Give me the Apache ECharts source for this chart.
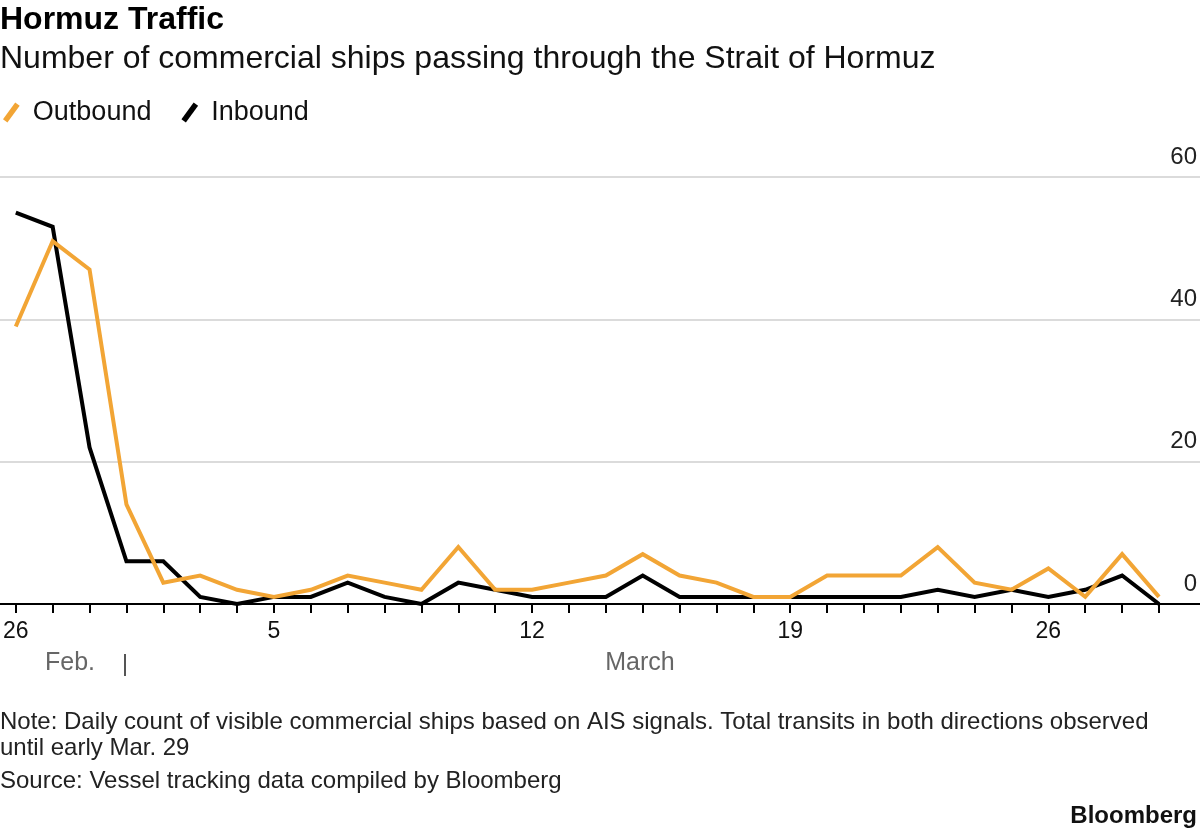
<!DOCTYPE html>
<html>
<head>
<meta charset="utf-8">
<title>Hormuz Traffic</title>
<script src="https://cdn.jsdelivr.net/npm/echarts@6/dist/echarts.min.js"></script>
<style>
  html, body { margin: 0; padding: 0; background: #fff; }
  #chart { width: 1200px; height: 831px; }
</style>
</head>
<body>
<div id="chart"></div>
<script>
// Days from Feb 26 to Mar 29
const days = ['26', '27', '28', '1', '2', '3', '4', '5', '6', '7', '8', '9', '10', '11', '12', '13',
  '14', '15', '16', '17', '18', '19', '20', '21', '22', '23', '24', '25', '26', '27', '28', '29'];
const labelDays = [0, 7, 14, 21, 28];

const outbound = [39, 51, 47, 14, 3, 4, 2, 1, 2, 4, 3, 2, 8, 2, 2, 3,
  4, 7, 4, 3, 1, 1, 4, 4, 4, 8, 3, 2, 5, 1, 7, 1];
const inbound = [55, 53, 22, 6, 6, 1, 0, 1, 1, 3, 1, 0, 3, 2, 1, 1,
  1, 4, 1, 1, 1, 1, 1, 1, 1, 2, 1, 2, 1, 2, 4, 0];

const yTicks = [0, 20, 40, 60];

const ORANGE = '#F2A535';
const FONT = '"Liberation Sans", Arial, sans-serif';
const slash = 'path://M0,15 L11,0 L15,3 L4,18 Z';

const chart = echarts.init(document.getElementById('chart'));

chart.setOption({
  backgroundColor: '#fff',
  animation: false,
  textStyle: { fontFamily: FONT },
  title: [
    { text: 'Hormuz Traffic', left: 0, top: 4, padding: 0,
      textStyle: { fontSize: 32, fontWeight: 'bold', color: '#000', fontFamily: FONT } },
    { text: 'Number of commercial ships passing through the Strait of Hormuz', left: 0, top: 43, padding: 0,
      textStyle: { fontSize: 32, fontWeight: 'normal', color: '#111', fontFamily: FONT } },
    { text: 'Note: Daily count of visible commercial ships based on AIS signals. Total transits in both directions observed\nuntil early Mar. 29',
      left: 0, top: 709, padding: 0,
      textStyle: { fontSize: 24, fontWeight: 'normal', color: '#222', lineHeight: 26, fontFamily: FONT } },
    { text: 'Source: Vessel tracking data compiled by Bloomberg', left: 0, top: 769, padding: 0,
      textStyle: { fontSize: 24, fontWeight: 'normal', color: '#222', fontFamily: FONT } },
    { text: 'Bloomberg', right: 3, top: 804, padding: 0,
      textStyle: { fontSize: 24, fontWeight: 'bold', color: '#111', fontFamily: FONT } }
  ],
  legend: {
    left: 3, top: 99, padding: 0,
    data: ['Outbound', 'Inbound'],
    icon: slash,
    itemWidth: 17, itemHeight: 20, itemGap: 30,
    textStyle: { fontSize: 27, color: '#111', fontFamily: FONT, padding: [0, 0, 0, 8] }
  },
  grid: [
    { left: 0, right: 0, top: 177, bottom: 227 },
    { left: 14, right: 41, top: 177, bottom: 227 }
  ],
  xAxis: [
    { type: 'value', gridIndex: 0, min: 0, max: 1,
      axisLine: { show: true, lineStyle: { color: '#000', width: 2 } },
      axisTick: { show: false }, axisLabel: { show: false }, splitLine: { show: false } },
    { type: 'category', gridIndex: 1, boundaryGap: false, data: days,
      axisLine: { show: false },
      axisTick: { show: true, interval: 0, length: 9, lineStyle: { color: '#000', width: 2 } },
      axisLabel: {
        interval: (i) => labelDays.includes(i),
        margin: 16, fontSize: 23, color: '#111', fontFamily: FONT
      },
      splitLine: { show: false } }
  ],
  yAxis: [
    { type: 'value', gridIndex: 0, position: 'right', min: 0, max: 60, interval: 20,
      axisLine: { show: false }, axisTick: { show: false },
      axisLabel: {
        inside: true, margin: 3, verticalAlign: 'bottom', padding: [0, 0, 8, 0],
        fontSize: 24, color: '#222', fontFamily: FONT,
        formatter: (v) => yTicks.includes(v) ? String(v) : ''
      },
      splitLine: { show: true, lineStyle: { color: '#cfcfcf', width: 1.5 } } },
    { type: 'value', gridIndex: 1, min: 0, max: 60, interval: 20, show: false }
  ],
  series: [
    { name: 'Inbound', type: 'line', xAxisIndex: 1, yAxisIndex: 1, data: inbound,
      symbol: 'none', color: '#000',
      lineStyle: { color: '#000', width: 4, join: 'miter' } },
    { name: 'Outbound', type: 'line', xAxisIndex: 1, yAxisIndex: 1, data: outbound,
      symbol: 'none', color: ORANGE,
      lineStyle: { color: ORANGE, width: 4, join: 'miter' } }
  ],
  graphic: [
    { type: 'text', x: 70, y: 663,
      style: { text: 'Feb.', fontSize: 25, fill: '#666', fontFamily: FONT, align: 'center', verticalAlign: 'middle' } },
    { type: 'rect', left: 124, top: 654, shape: { width: 2, height: 22 },
      style: { fill: '#555' } },
    { type: 'text', x: 640, y: 663,
      style: { text: 'March', fontSize: 25, fill: '#666', fontFamily: FONT, align: 'center', verticalAlign: 'middle' } }
  ]
});
</script>
</body>
</html>
